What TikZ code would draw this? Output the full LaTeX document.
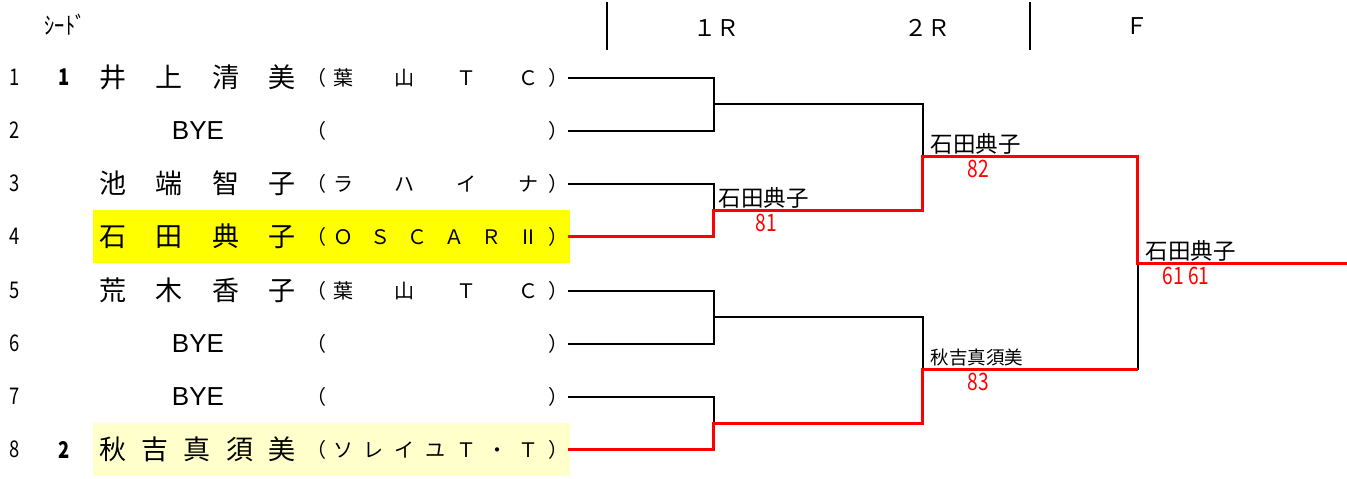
\documentclass[tikz,border=0pt]{standalone}
\usepackage{fontspec}
\usepackage{graphicx}
\setmainfont{Liberation Sans}
\newfontfamily\jfont{Noto Sans CJK JP}
\usetikzlibrary{positioning}
\definecolor{WinRed}{HTML}{FF0000}
\definecolor{SeedYellow}{HTML}{FFFF00}
\definecolor{PaleYellow}{HTML}{FFFFCC}
\newcommand\spreadname[1]{\makebox[196pt]{#1}}
\newcommand\clubbox[1]{\makebox[262pt]{（\hspace{7pt}\makebox[205pt]{#1}\hfill）}}
\newcommand\narrow[1]{\scalebox{0.8}[1]{#1}}
\begin{document}
\begin{tikzpicture}[
    x=1pt, y=-1pt,
    font=\jfont,
    rownum/.style={font=\jfont\fontsize{23}{23}\selectfont,inner sep=0pt},
    seednum/.style={font=\jfont\bfseries\fontsize{23}{23}\selectfont,inner sep=0pt},
    player/.style={font=\jfont\fontsize{27}{27}\selectfont,inner sep=0pt},
    byename/.style={font=\fontsize{26}{26}\selectfont,inner sep=0pt},
    club/.style={font=\jfont\fontsize{20}{20}\selectfont,inner sep=0pt},
    hdr/.style={font=\jfont\fontsize{23}{23}\selectfont,inner sep=0pt},
    sep/.style={line width=1.8pt,black},
    lose/.style={line width=2pt,black},
    win/.style={line width=2.8pt,WinRed},
    winner/.style={font=\jfont\fontsize{22.5}{22.5}\selectfont,inner sep=0pt},
    smallwinner/.style={font=\jfont\fontsize{18.5}{18.5}\selectfont,inner sep=0pt},
    score/.style={font=\jfont\fontsize{24}{24}\selectfont,text=WinRed,inner sep=0pt}
  ]
  \useasboundingbox (0,0) rectangle (1347,479);
  % highlighted entries
  \fill[SeedYellow] (93,210) rectangle (570,263);
  \fill[PaleYellow] (93,423) rectangle (570,476);
  % header
  \node[hdr,font=\jfont\fontsize{24}{24}\selectfont] (seedhdr) at (65,25) {\scalebox{0.85}[1]{ｼｰﾄﾞ}};
  \node[hdr] (r1hdr) at (716,28) {１Ｒ};
  \node[hdr] (r2hdr) at (927,28) {２Ｒ};
  \node[hdr] (fhdr) at (1137,26) {Ｆ};
  \draw[sep] (607,2) -- (607,50);
  \draw[sep] (1030,2) -- (1030,50);
  % draw positions
  \foreach \i/\y in {1/77.5,2/130.5,3/183.5,4/236.5,5/290.5,6/343.5,7/396.5,8/449.5}
    \node[rownum] (n\i) at (15,\y) {\narrow{\i}};
  \node[seednum] (s1) at (64,77.5) {\narrow{1}};
  \node[seednum] (s8) at (64,449.5) {\narrow{2}};
  % players
  \node[player] (p1) at (197.5,77.5) {\spreadname{井\hfill 上\hfill 清\hfill 美}};
  \node[byename] (p2) at (198,130.5) {BYE};
  \node[player] (p3) at (197.5,183.5) {\spreadname{池\hfill 端\hfill 智\hfill 子}};
  \node[player] (p4) at (197.5,236.5) {\spreadname{石\hfill 田\hfill 典\hfill 子}};
  \node[player] (p5) at (197.5,290.5) {\spreadname{荒\hfill 木\hfill 香\hfill 子}};
  \node[byename] (p6) at (198,343.5) {BYE};
  \node[byename] (p7) at (198,396.5) {BYE};
  \node[player] (p8) at (197.5,449.5) {\spreadname{秋\hfill 吉\hfill 真\hfill 須\hfill 美}};
  % clubs
  \node[club] (c1) at (437,77.5) {\clubbox{葉\hfill 山\hfill Ｔ\hfill Ｃ}};
  \node[club] (c2) at (437,130.5) {\clubbox{}};
  \node[club] (c3) at (437,183.5) {\clubbox{ラ\hfill ハ\hfill イ\hfill ナ}};
  \node[club] (c4) at (437,236.5) {\clubbox{Ｏ\hfill Ｓ\hfill Ｃ\hfill Ａ\hfill Ｒ\hfill Ⅱ}};
  \node[club] (c5) at (437,290.5) {\clubbox{葉\hfill 山\hfill Ｔ\hfill Ｃ}};
  \node[club] (c6) at (437,343.5) {\clubbox{}};
  \node[club] (c7) at (437,396.5) {\clubbox{}};
  \node[club] (c8) at (437,449.5) {\clubbox{ソ\hfill レ\hfill イ\hfill ユ\hfill Ｔ\hfill ・\hfill Ｔ}};
  % bracket points
  \coordinate (a1) at (713.5,103.5);
  \coordinate (a2) at (713.5,210.5);
  \coordinate (a3) at (713.5,316.5);
  \coordinate (a4) at (713.5,423.5);
  \coordinate (b1) at (922.5,156.5);
  \coordinate (b2) at (922.5,369.5);
  \coordinate (f) at (1137.5,263.5);
  \coordinate (w) at (1347,263.5);
  % lost lines
  \draw[lose] (c1.east) -| (a1);
  \draw[lose] (c2.east) -| (a1);
  \draw[lose] (a1) -| (b1);
  \draw[lose] (c3.east) -| (a2);
  \draw[lose] (c5.east) -| (a3);
  \draw[lose] (c6.east) -| (a3);
  \draw[lose] (a3) -| (b2);
  \draw[lose] (c7.east) -| (a4);
  \draw[lose] (b2 -| f) -- (f);
  % winning lines
  \draw[win] (c4.east) -| (a2) -| (b1) -| (f) -- (w);
  \draw[win] (c8.east) -| (a4) -| (b2) -- (b2 -| f);
  % results
  \node[winner,above right=2pt and 5pt of a2] (wa2) {石田典子};
  \node[score,below right=3pt and 42pt of a2] (sa2) {\narrow{81}};
  \node[winner,above right=2pt and 8pt of b1] (wb1) {石田典子};
  \node[score,below right=3pt and 45pt of b1] (sb1) {\narrow{82}};
  \node[smallwinner,above right=3pt and 8pt of b2] (wb2) {秋吉真須美};
  \node[score,below right=3pt and 45pt of b2] (sb2) {\narrow{83}};
  \node[winner,above right=2pt and 8pt of f] (wf) {石田典子};
  \node[score,below right=3pt and 25pt of f] (sf) {\narrow{61 61}};
\end{tikzpicture}
\end{document}
